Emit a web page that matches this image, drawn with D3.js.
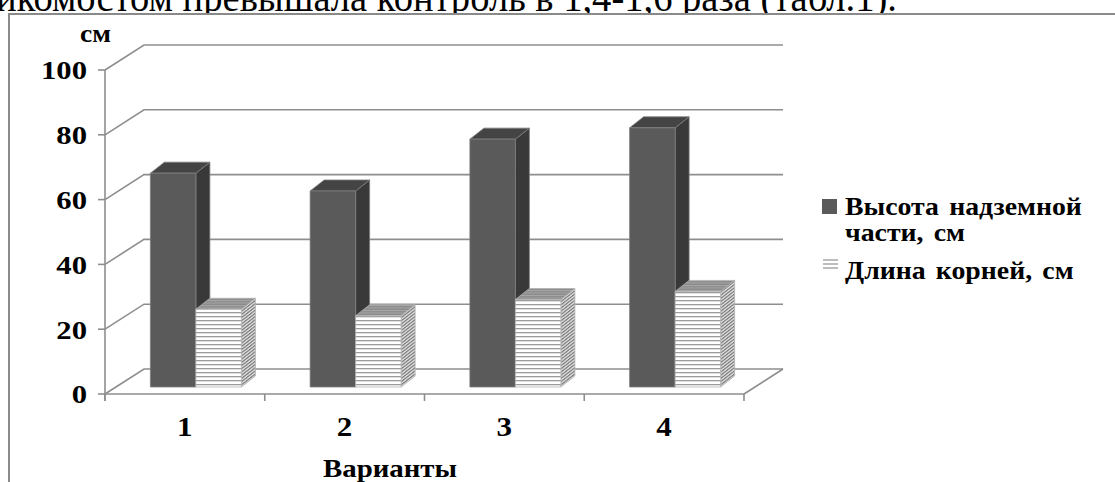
<!DOCTYPE html>
<html lang="ru">
<head>
<meta charset="utf-8">
<script src="https://cdn.jsdelivr.net/npm/d3@7"></script>
<style>
  html, body { margin: 0; padding: 0; background: #fff; }
  svg { display: block; }
  text { font-family: "Liberation Serif", "Times New Roman", serif; }
</style>
</head>
<body>
<svg id="chart" width="1115" height="482"></svg>
<script>
// Варианты опыта и измеренные показатели, см
const categories = ["1", "2", "3", "4"];
const shootHeight = [66, 60.5, 76.5, 80];
const rootLength = [24, 22, 27, 29.5];
const seriesKeys = ["shoot", "root"];
const legendLines = [["Высота надземной", "части, см"], ["Длина корней, см"]];
const yTicks = [0, 20, 40, 60, 80, 100];
const yTickLabels = ["0", "20", "40", "60", "80", "100"];
const bodyLine = "икомостом превышала контроль в 1,4-1,6 раза (табл.1).";
const unitLabel = "см";
const axisTitle = "Варианты";

const svg = d3.select("#chart");
const W = 1115, H = 482;
svg.append("rect").attr("width", W).attr("height", H).attr("fill", "#fff");

// oblique projection of the floor / back wall
const DEPTH = { dx: 39, dy: -25 };
// bars stand a little behind the front edge of the floor
const BAR_FRONT = { dx: 11, dy: -7 };
const BAR_DEPTH = { dx: 14, dy: -11 };

const x = d3.scaleBand().domain(categories).range([105, 744]).paddingInner(0).paddingOuter(0);
const y = d3.scaleLinear().domain([0, 100]).range([394, 70]);
const inner = d3.scaleBand().domain(seriesKeys)
  .range([x.bandwidth() / 2 - 45.5, x.bandwidth() / 2 + 45.5]);

const gridColor = "#8e8e8e";

// line of body text above the chart frame
svg.append("text")
  .attr("x", -4).attr("y", 11)
  .attr("font-size", 40)
  .attr("textLength", 901).attr("lengthAdjust", "spacingAndGlyphs")
  .attr("fill", "#000")
  .text(bodyLine);

// chart frame
svg.append("rect")
  .attr("x", 9).attr("y", 14).attr("width", 1200).attr("height", 600)
  .attr("fill", "#fff").attr("stroke", "#8a8a8a").attr("stroke-width", 2);

// patterns for the striped series
const defs = svg.append("defs");
const pf = defs.append("pattern").attr("id", "stripeFront")
  .attr("patternUnits", "userSpaceOnUse").attr("width", 8).attr("height", 4);
pf.append("rect").attr("width", 8).attr("height", 4).attr("fill", "#ffffff");
pf.append("rect").attr("y", 0).attr("width", 8).attr("height", 1.3).attr("fill", "#9c9c9c");

const ps = defs.append("pattern").attr("id", "stripeSide")
  .attr("patternUnits", "userSpaceOnUse").attr("width", 8).attr("height", 3.2)
  .attr("patternTransform", "skewY(-38)");
ps.append("rect").attr("width", 8).attr("height", 3.2).attr("fill", "#d8d8d8");
ps.append("rect").attr("width", 8).attr("height", 1.4).attr("fill", "#7c7c7c");

const pt = defs.append("pattern").attr("id", "stripeTop")
  .attr("patternUnits", "userSpaceOnUse").attr("width", 8).attr("height", 2.5);
pt.append("rect").attr("width", 8).attr("height", 2.5).attr("fill", "#8a8a8a");
pt.append("rect").attr("width", 8).attr("height", 1).attr("fill", "#a8a8a8");

// back wall gridlines with their side-wall diagonals
const x0 = x.range()[0], x1 = x.range()[1];
const grid = svg.append("g").attr("stroke", gridColor).attr("stroke-width", 1.6).attr("fill", "none");
grid.selectAll("path.g").data(yTicks).join("path").attr("class", "g")
  .attr("d", v => {
    const yf = y(v);
    return `M${x0},${yf} L${x0 + DEPTH.dx},${yf + DEPTH.dy} L${x1 + DEPTH.dx},${yf + DEPTH.dy}`;
  });
// right edge of the floor
grid.append("path")
  .attr("d", `M${x1},${y(0)} L${x1 + DEPTH.dx},${y(0) + DEPTH.dy}`);

// value axis
const axisG = svg.append("g").attr("stroke", gridColor).attr("stroke-width", 1.6).attr("fill", "none");
axisG.append("line").attr("x1", x0).attr("x2", x0).attr("y1", y(100)).attr("y2", y(0) + 7);
axisG.selectAll("line.yt").data(yTicks).join("line").attr("class", "yt")
  .attr("x1", x0 - 7).attr("x2", x0).attr("y1", d => y(d)).attr("y2", d => y(d));
// category axis
axisG.append("line").attr("x1", x0).attr("x2", x1).attr("y1", y(0)).attr("y2", y(0));
const xTickPos = categories.map(c => x(c)).concat([x1]);
axisG.selectAll("line.xt").data(xTickPos).join("line").attr("class", "xt")
  .attr("x1", d => d).attr("x2", d => d).attr("y1", y(0)).attr("y2", y(0) + 7);

// value labels
svg.append("g").selectAll("text").data(yTicks).join("text")
  .attr("transform", d => `translate(87,${y(d)}) scale(1.18,1)`)
  .attr("dy", "0.36em")
  .attr("text-anchor", "end")
  .attr("font-size", 26).attr("font-weight", "bold").attr("fill", "#000")
  .text((d, i) => yTickLabels[i]);

svg.append("text")
  .attr("transform", "translate(80,42) scale(1.1,1)")
  .attr("font-size", 25).attr("font-weight", "bold").text(unitLabel);

// category labels
svg.append("g").selectAll("text").data(categories).join("text")
  .attr("transform", d => `translate(${x(d) + x.bandwidth() / 2},436) scale(1.15,1)`)
  .attr("text-anchor", "middle")
  .attr("font-size", 27).attr("font-weight", "bold").text(d => d);

svg.append("text")
  .attr("transform", "translate(390,477) scale(1.11,1)")
  .attr("text-anchor", "middle")
  .attr("font-size", 26).attr("font-weight", "bold").text(axisTitle);

// 3-D columns
const styles = {
  shoot: { front: "#5a5a5a", side: "#393939", top: "#444444", stroke: "#7d7d7d" },
  root: { front: "url(#stripeFront)", side: "url(#stripeSide)", top: "url(#stripeTop)", stroke: "#b0b0b0" }
};
const bars = [];
categories.forEach((c, i) => {
  bars.push({ cat: c, key: "shoot", value: shootHeight[i] });
  bars.push({ cat: c, key: "root", value: rootLength[i] });
});

const barG = svg.append("g");
bars.forEach(b => {
  const left = x(b.cat) + inner(b.key) + BAR_FRONT.dx;
  const right = left + inner.bandwidth();
  const bottom = y(0) + BAR_FRONT.dy;
  const top = y(b.value) + BAR_FRONT.dy;
  const st = styles[b.key];
  const g = barG.append("g").attr("stroke", st.stroke).attr("stroke-width", 0.8).attr("stroke-linejoin", "round");
  // side face
  g.append("path").attr("fill", st.side)
    .attr("d", `M${right},${top} L${right + BAR_DEPTH.dx},${top + BAR_DEPTH.dy} L${right + BAR_DEPTH.dx},${bottom + BAR_DEPTH.dy} L${right},${bottom} Z`);
  // top face
  g.append("path").attr("fill", st.top)
    .attr("d", `M${left},${top} L${left + BAR_DEPTH.dx},${top + BAR_DEPTH.dy} L${right + BAR_DEPTH.dx},${top + BAR_DEPTH.dy} L${right},${top} Z`);
  // front face
  g.append("rect").attr("fill", st.front)
    .attr("x", left).attr("y", top).attr("width", right - left).attr("height", bottom - top);
});

// legend
const legend = svg.append("g");
legend.append("rect").attr("x", 822).attr("y", 199).attr("width", 15).attr("height", 15).attr("fill", "#5a5a5a");
[260, 264, 268].forEach(yy => {
  legend.append("line").attr("x1", 823).attr("x2", 838).attr("y1", yy).attr("y2", yy)
    .attr("stroke", "#9a9a9a").attr("stroke-width", 1.3);
});
const legendBaselines = [[215, 241], [279]];
legendLines.forEach((lines, si) => {
  lines.forEach((t, li) => {
    legend.append("text")
      .attr("transform", `translate(845,${legendBaselines[si][li]}) scale(1.07,1)`)
      .attr("font-size", 26).attr("font-weight", "bold").attr("word-spacing", 3).text(t);
  });
});
</script>
</body>
</html>
